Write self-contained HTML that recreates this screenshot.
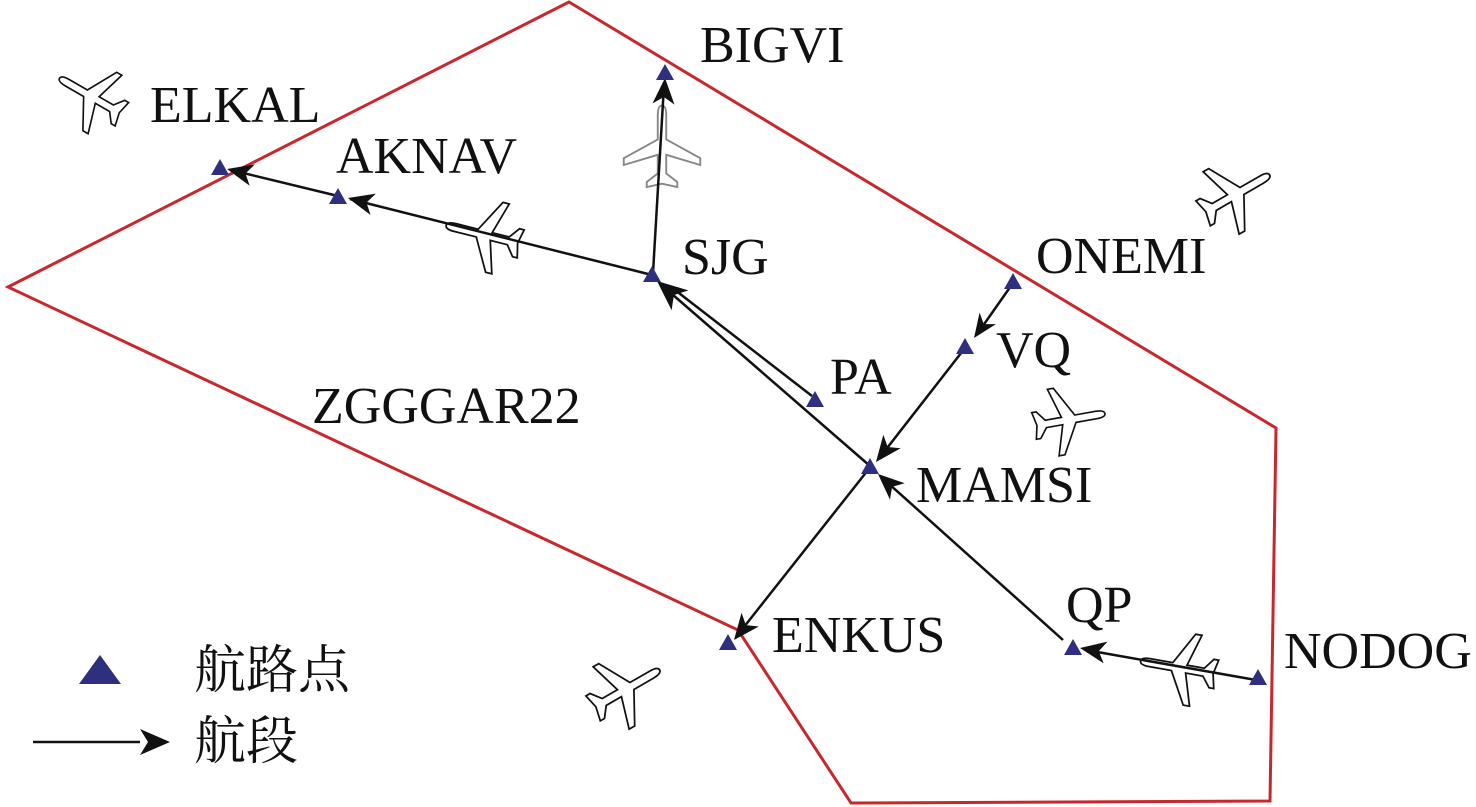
<!DOCTYPE html>
<html><head><meta charset="utf-8"><style>
html,body{margin:0;padding:0;background:#fff}
svg{display:block}
text{font-family:"Liberation Serif","Noto Serif CJK SC",serif;font-size:52px;fill:#111}
.cn{font-family:"Liberation Serif","Noto Serif CJK SC","Noto Sans CJK SC",serif;font-size:52px}
</style></head><body>
<svg width="1476" height="807" viewBox="0 0 1476 807" xmlns="http://www.w3.org/2000/svg">
<defs>
<path id="pl" d="M0,-50 C4,-50 5,-44 5,-38 L5,-10 L45,12 L45,20 L5,8 L5,30 L18,40 L18,46 L0,42 L-18,46 L-18,40 L-5,30 L-5,8 L-45,20 L-45,12 L-5,-10 L-5,-38 C-5,-44 -4,-50 0,-50 Z" fill="#fff" stroke="#111" stroke-width="2.2"/>
<path id="tri" d="M0,-9 L9,7 L-9,7 Z" fill="#2e2f7e"/>
</defs>
<polygon points="569,2 1276,428 1270,801 851,803 738,630 8,287" fill="none" stroke="#c8282d" stroke-width="3"/>

<use href="#pl" transform="translate(92,97) rotate(-60) scale(0.75)"/>
<use href="#pl" transform="translate(485,235) rotate(-76) scale(0.8)"/>
<use href="#pl" transform="translate(662,148) rotate(0) scale(0.85)" style="opacity:0.5"/>
<use href="#pl" transform="translate(1235,195) rotate(60) scale(0.8)"/>
<use href="#pl" transform="translate(1068,420) rotate(80) scale(0.75)"/>
<use href="#pl" transform="translate(625,690) rotate(60) scale(0.8)"/>
<use href="#pl" transform="translate(1180,668) rotate(-80) scale(0.8)"/>

<g stroke="#111" stroke-width="2.5" fill="none">
<line x1="653" y1="273" x2="664" y2="85"/>
<line x1="652" y1="275" x2="350" y2="199"/>
<line x1="338" y1="196" x2="235" y2="171"/>
<line x1="870" y1="466" x2="665" y2="288"/>
<line x1="812" y1="396" x2="675" y2="290"/>
<line x1="1013" y1="283" x2="980" y2="330"/>
<line x1="965" y1="348" x2="884" y2="452"/>
<line x1="868" y1="470" x2="740" y2="632"/>
<line x1="1063" y1="640" x2="888" y2="483"/>
<line x1="1256" y1="680" x2="1086" y2="650"/>
</g>
<g fill="#111">
<polygon points="0,0 -26,-11 -19,0 -26,11" transform="translate(665,78) rotate(-86.7)"/>
<polygon points="0,0 -26,-11 -19,0 -26,11" transform="translate(348,198) rotate(194)"/>
<polygon points="0,0 -26,-11 -19,0 -26,11" transform="translate(227,169) rotate(193.6)"/>
<polygon points="0,0 -30,-13 -22,0 -30,13" transform="translate(657,281) rotate(220)"/>
<polygon points="0,0 -24,-10 -17,0 -24,10" transform="translate(974,338) rotate(125)"/>
<polygon points="0,0 -26,-11 -19,0 -26,11" transform="translate(876,462) rotate(128)"/>
<polygon points="0,0 -26,-11 -19,0 -26,11" transform="translate(734,640) rotate(128.5)"/>
<polygon points="0,0 -26,-11 -19,0 -26,11" transform="translate(878,474) rotate(222)"/>
<polygon points="0,0 -26,-11 -19,0 -26,11" transform="translate(1080,648) rotate(190)"/>
</g>
<g>
<use href="#tri" x="220" y="168"/>
<use href="#tri" x="338" y="197"/>
<use href="#tri" x="652" y="275"/>
<use href="#tri" x="665" y="73"/>
<use href="#tri" x="1013" y="282"/>
<use href="#tri" x="965" y="347"/>
<use href="#tri" x="815" y="400"/>
<use href="#tri" x="870" y="467"/>
<use href="#tri" x="728" y="643"/>
<use href="#tri" x="1073" y="648"/>
<use href="#tri" x="1258" y="678"/>
</g>
<text x="700" y="62">BIGVI</text>
<text x="150" y="122">ELKAL</text>
<text x="336" y="173">AKNAV</text>
<text x="682" y="274">SJG</text>
<text x="1036" y="273">ONEMI</text>
<text x="996" y="367">VQ</text>
<text x="830" y="394">PA</text>
<text x="312" y="423">ZGGGAR22</text>
<text x="916" y="502">MAMSI</text>
<text x="772" y="652">ENKUS</text>
<text x="1066" y="622">QP</text>
<text x="1284" y="668">NODOG</text>
<path d="M100,655 L121,684 L79,684 Z" fill="#2e2f7e"/>
<text class="cn" x="194" y="688">航路点</text>
<line x1="33" y1="742" x2="140" y2="742" stroke="#111" stroke-width="2.5"/>
<polygon points="0,0 -30,-13 -22,0 -30,13" transform="translate(170,742)" fill="#111"/>
<text class="cn" x="194" y="759">航段</text>
</svg>
</body></html>
